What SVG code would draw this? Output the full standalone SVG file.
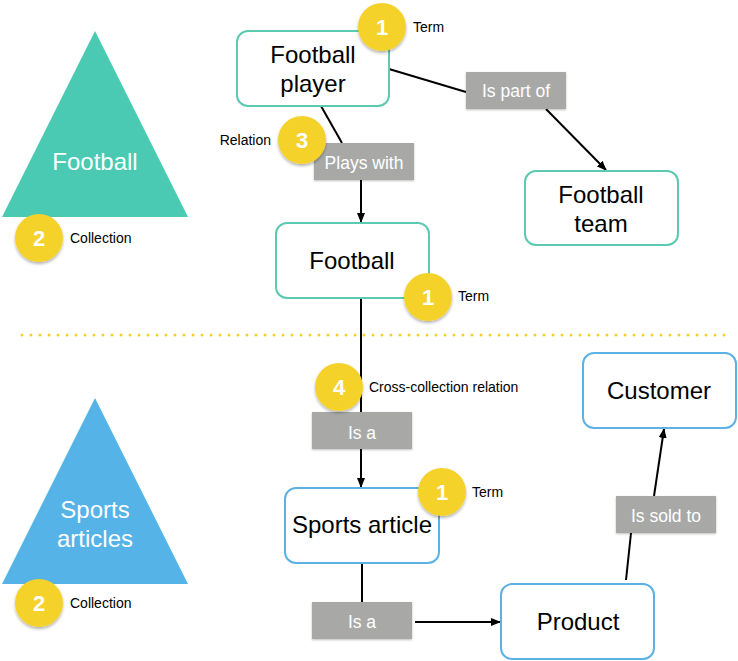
<svg xmlns="http://www.w3.org/2000/svg" width="738" height="661" viewBox="0 0 738 661">
<defs>
<marker id="arr" markerWidth="10" markerHeight="10" refX="9" refY="5" orient="auto" markerUnits="userSpaceOnUse">
<path d="M0,1 L10,5 L0,9 Z" fill="#000"/>
</marker>
<filter id="sh" x="-30%" y="-30%" width="160%" height="170%">
<feDropShadow dx="0" dy="2" stdDeviation="1.5" flood-color="#000" flood-opacity="0.3"/>
</filter>
<filter id="sh2" x="-10%" y="-20%" width="120%" height="150%">
<feDropShadow dx="0" dy="1" stdDeviation="1" flood-color="#000" flood-opacity="0.25"/>
</filter>
</defs>
<style>
text{font-family:"Liberation Sans",Arial,sans-serif;}
.node{fill:#fff;stroke-width:2;}
.g{stroke:#5CC9B1;}
.b{stroke:#5DB1E4;}
.nt{font-size:24px;fill:#000;text-anchor:middle;}
.lbl{fill:#A8A9A7;filter:url(#sh2);}
.lt{font-size:17.5px;fill:#fff;text-anchor:middle;}
.badge{fill:#F5D22B;filter:url(#sh);}
.bn{font-size:22px;font-weight:bold;fill:#fff;text-anchor:middle;}
.st{font-size:14px;fill:#000;}
.tt{font-size:24px;fill:#fff;text-anchor:middle;}
.c{stroke:#000;stroke-width:2;fill:none;}
</style>
<rect width="738" height="661" fill="#fff"/>

<line x1="22" y1="335" x2="730" y2="335" stroke="#F5D22B" stroke-width="3" stroke-linecap="round" stroke-dasharray="0 9"/>

<g id="connectors">
<line class="c" x1="321" y1="106" x2="342" y2="143"/>
<line class="c" x1="361" y1="180" x2="361" y2="222" marker-end="url(#arr)"/>
<line class="c" x1="389" y1="69" x2="466" y2="92"/>
<line class="c" x1="546" y1="109" x2="606" y2="170" marker-end="url(#arr)"/>
<line class="c" x1="361" y1="298" x2="361" y2="412"/>
<line class="c" x1="361" y1="449" x2="361" y2="487" marker-end="url(#arr)"/>
<line class="c" x1="362" y1="564" x2="362" y2="602"/>
<line class="c" x1="415" y1="622" x2="500" y2="622" marker-end="url(#arr)"/>
<line class="c" x1="626" y1="580" x2="631" y2="533"/>
<line class="c" x1="654" y1="496" x2="664" y2="429" marker-end="url(#arr)"/>
</g>

<g id="tri-football">
<polygon points="95,31 188,217 2,217" fill="#4ACAB2"/>
<text class="tt" x="95" y="170">Football</text>
</g>
<g id="tri-sports">
<polygon points="95,398 188,584 2,584" fill="#55B3E7"/>
<text class="tt" x="95" y="518">Sports</text>
<text class="tt" x="95" y="547">articles</text>
</g>

<g id="football-player">
<rect class="node g" x="237" y="31" width="152" height="75" rx="11"/>
<text class="nt" x="313" y="63">Football</text>
<text class="nt" x="313" y="92">player</text>
</g>
<g id="football-team">
<rect class="node g" x="525" y="171" width="153" height="74" rx="11"/>
<text class="nt" x="601" y="203">Football</text>
<text class="nt" x="601" y="232">team</text>
</g>
<g id="football">
<rect class="node g" x="276" y="223" width="153" height="75" rx="11"/>
<text class="nt" x="352" y="269">Football</text>
</g>
<g id="sports-article">
<rect class="node b" x="285" y="488" width="154" height="75" rx="11"/>
<text class="nt" x="362" y="533">Sports article</text>
</g>
<g id="product">
<rect class="node b" x="501" y="584" width="153" height="75" rx="11"/>
<text class="nt" x="578" y="630">Product</text>
</g>
<g id="customer">
<rect class="node b" x="583" y="353" width="153" height="75" rx="11"/>
<text class="nt" x="659" y="399">Customer</text>
</g>

<g id="lbl-plays-with">
<rect class="lbl" x="314" y="143" width="100" height="37"/>
<text class="lt" x="364" y="169">Plays with</text>
</g>
<g id="lbl-is-part-of">
<rect class="lbl" x="466" y="72" width="100" height="37"/>
<text class="lt" x="516" y="97">Is part of</text>
</g>
<g id="lbl-is-a-1">
<rect class="lbl" x="312" y="412" width="100" height="37"/>
<text class="lt" x="362" y="439">Is a</text>
</g>
<g id="lbl-is-a-2">
<rect class="lbl" x="312" y="602" width="100" height="37"/>
<text class="lt" x="362" y="628">Is a</text>
</g>
<g id="lbl-is-sold-to">
<rect class="lbl" x="616" y="496" width="100" height="37"/>
<text class="lt" x="666" y="522">Is sold to</text>
</g>

<g id="badge-term-1">
<circle class="badge" cx="382" cy="27" r="24"/>
<text class="bn" x="382" y="35">1</text>
<text class="st" x="413" y="32">Term</text>
</g>
<g id="badge-relation">
<circle class="badge" cx="302" cy="140" r="24"/>
<text class="bn" x="302" y="148">3</text>
<text class="st" x="271" y="145" text-anchor="end">Relation</text>
</g>
<g id="badge-term-2">
<circle class="badge" cx="428" cy="297" r="24"/>
<text class="bn" x="428" y="305">1</text>
<text class="st" x="458" y="301">Term</text>
</g>
<g id="badge-cross">
<circle class="badge" cx="339" cy="387" r="24"/>
<text class="bn" x="339" y="395">4</text>
<text class="st" x="369" y="392">Cross-collection relation</text>
</g>
<g id="badge-term-3">
<circle class="badge" cx="442" cy="492" r="24"/>
<text class="bn" x="442" y="500">1</text>
<text class="st" x="472" y="497">Term</text>
</g>
<g id="badge-coll-1">
<circle class="badge" cx="39" cy="238" r="24"/>
<text class="bn" x="39" y="246">2</text>
<text class="st" x="70" y="243">Collection</text>
</g>
<g id="badge-coll-2">
<circle class="badge" cx="39" cy="603" r="24"/>
<text class="bn" x="39" y="611">2</text>
<text class="st" x="70" y="608">Collection</text>
</g>
</svg>
